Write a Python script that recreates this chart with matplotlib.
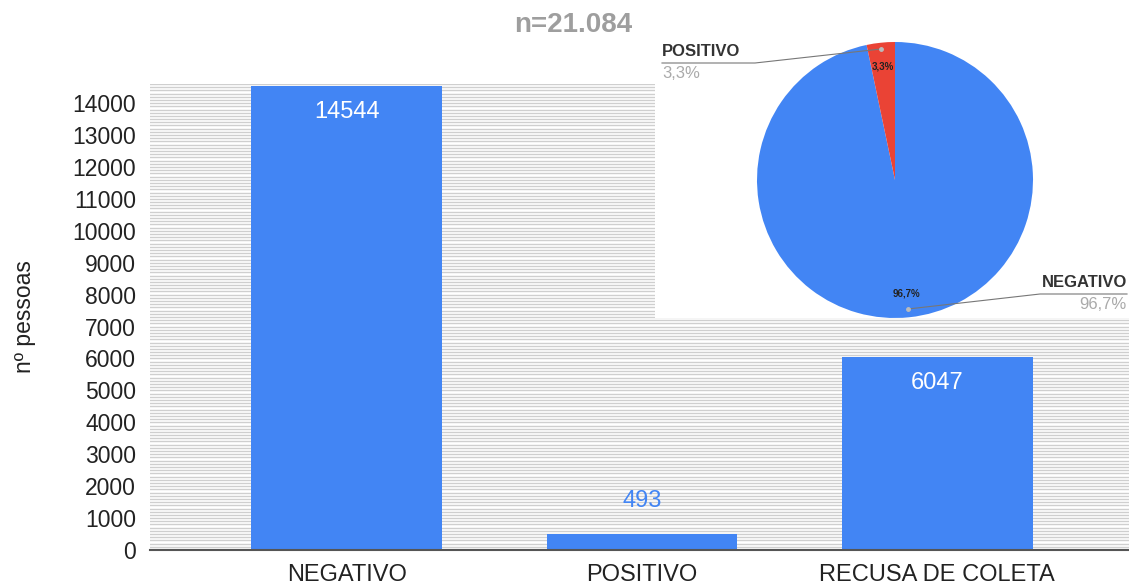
import numpy as np
import matplotlib
matplotlib.use('agg')
import matplotlib.pyplot as plt
from matplotlib.lines import Line2D
from matplotlib.patches import Rectangle

plt.rcParams['font.family'] = ['Liberation Sans', 'DejaVu Sans']

# data
categories = ['NEGATIVO', 'POSITIVO', 'RECUSA DE COLETA']
counts = [14544, 493, 6047]
pie_labels = ['NEGATIVO', 'POSITIVO']
pie_share = [96.7, 3.3]
title = 'n=21.084'

W, H = 1129, 587
BLUE = '#4285f4'
RED = '#ea4335'


def fx(px):
    return px / W


def fy(py):
    return 1 - py / H


fig = plt.figure(figsize=(W / 100, H / 100), dpi=100)
ax = fig.add_axes([fx(150), fy(550), fx(1129) - fx(150), fy(84) - fy(550)])

x = np.arange(len(categories))
ax.bar(x, counts, width=0.647, color=BLUE, zorder=3)
ax.set_xlim(-0.667, 2.65)
ax.set_ylim(0, 14600)
ax.set_yticks(np.arange(0, 14001, 1000))
ax.set_yticks(np.arange(0, 14601, 100), minor=True)
ax.grid(True, which='both', axis='y', color='#cfcfcf', linewidth=1.0, zorder=0)
ax.tick_params(axis='y', which='both', length=0, labelsize=16.5, pad=10, labelcolor='#222222')
ax.tick_params(axis='x', length=0, labelsize=17, pad=10, labelcolor='#222222')
ax.set_xticks(x)
ax.set_xticklabels(categories)
for s in ['top', 'right', 'left']:
    ax.spines[s].set_visible(False)
ax.spines['bottom'].set_color('#555555')
ax.spines['bottom'].set_linewidth(1.5)
ax.spines['bottom'].set_zorder(4)
ax.set_ylabel('nº pessoas', fontsize=16.5, labelpad=26, color='#222222')

# value labels
for xi, v in zip(x, counts):
    if v > 2000:
        ax.text(xi, v - 480, str(v), ha='center', va='top', color='white', fontsize=17, zorder=5)
    else:
        ax.text(xi, v + 700, str(v), ha='center', va='bottom', color=BLUE, fontsize=17, zorder=5)

# white panel behind the pie
ax.add_patch(Rectangle(((655 - 150) / 979, (550 - 318) / 466), 1, 1,
                       transform=ax.transAxes, facecolor='white', edgecolor='none',
                       zorder=2, clip_on=True))

fig.text(fx(573), fy(25), title, ha='center', va='center', fontsize=20,
         fontweight='bold', color='#9e9e9e')

# pie inset
pax = fig.add_axes([fx(757), fy(318), fx(1033) - fx(757), fy(42) - fy(318)])
wedges, _, autotexts = pax.pie(pie_share, colors=[BLUE, RED], startangle=90,
                               counterclock=False, autopct=lambda p: f'{p:.1f}%'.replace('.', ','),
                               pctdistance=0.83,
                               textprops=dict(fontsize=7, fontweight='bold', color='#222222'))
pax.set_xlim(-1, 1)
pax.set_ylim(-1, 1)
pax.set_aspect('equal')

# leader lines and outside labels
fig.add_artist(Line2D([fx(662), fx(755), fx(881)], [fy(63), fy(63), fy(49)],
                      color='#777777', linewidth=0.8))
fig.add_artist(Line2D([fx(881)], [fy(49)], marker='o', markersize=2.5, color='#bbbbbb'))
fig.text(fx(662), fy(59), 'POSITIVO', ha='left', va='bottom', fontsize=12,
         fontweight='bold', color='#333333')
fig.text(fx(662), fy(66), '3,3%', ha='left', va='top', fontsize=12, color='#aaaaaa')

fig.add_artist(Line2D([fx(908), fx(1040), fx(1127)], [fy(309), fy(294), fy(294)],
                      color='#777777', linewidth=0.8))
fig.add_artist(Line2D([fx(908)], [fy(309)], marker='o', markersize=2.5, color='#bbbbbb'))
fig.text(fx(1127), fy(290), 'NEGATIVO', ha='right', va='bottom', fontsize=12,
         fontweight='bold', color='#333333')
fig.text(fx(1127), fy(297), '96,7%', ha='right', va='top', fontsize=12, color='#aaaaaa')

plt.savefig('out.png', dpi=100)
